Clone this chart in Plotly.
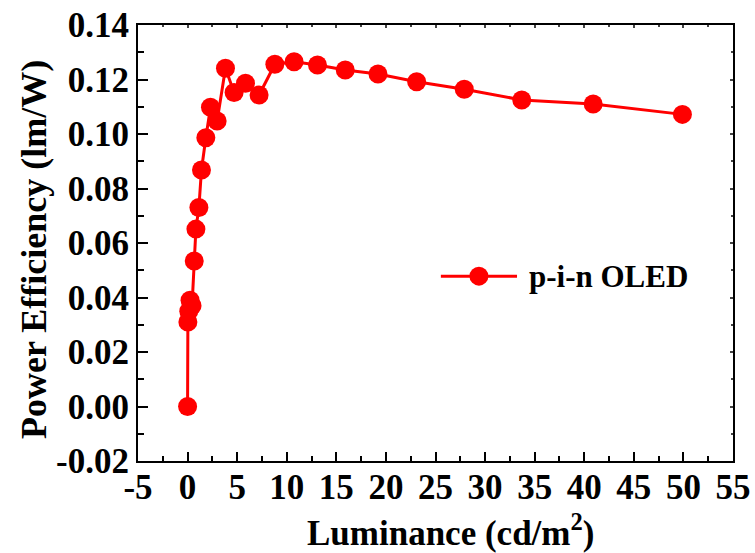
import plotly.graph_objects as go

luminance = [0.0, 0.03, 0.12, 0.25, 0.45, 0.67, 0.84, 1.14, 1.4, 1.84, 2.31, 2.98, 3.82, 4.69, 5.84, 7.21, 8.8, 10.74, 13.1, 15.9, 19.2, 23.1, 27.9, 33.7, 40.9, 49.9]
power_eff = [0.000, 0.031, 0.035, 0.039, 0.037, 0.0534, 0.0651, 0.073, 0.0868, 0.0986, 0.1098, 0.1048, 0.1241, 0.1152, 0.1186, 0.1143, 0.1256, 0.1265, 0.1253, 0.1235, 0.1220, 0.1192, 0.1164, 0.1125, 0.1110, 0.1072]
series_name = "p-i-n OLED"
x_ticks = list(range(-5, 60, 5))
x_ticktext = [str(v) for v in x_ticks]
y_ticks = [-0.02, 0.0, 0.02, 0.04, 0.06, 0.08, 0.10, 0.12, 0.14]
y_ticktext = ["%.2f" % v for v in y_ticks]
x_title = "Luminance (cd/m<sup>2</sup>)"
y_title = "Power Efficiency (lm/W)"

RED = "#ff0000"
FONT = "Liberation Serif"

fig = go.Figure()
fig.add_trace(go.Scatter(
    x=luminance, y=power_eff, mode="lines+markers", name=series_name,
    line=dict(color=RED, width=3), marker=dict(color=RED, size=19),
    showlegend=False))

# custom legend sample on a paper-like overlay axis
fig.add_trace(go.Scatter(
    x=[0.509, 0.573, 0.637], y=[0.424, 0.424, 0.424], mode="lines",
    line=dict(color=RED, width=3), xaxis="x3", yaxis="y3", showlegend=False, hoverinfo="skip"))
fig.add_trace(go.Scatter(
    x=[0.573], y=[0.424], mode="markers",
    marker=dict(color=RED, size=19), xaxis="x3", yaxis="y3", showlegend=False, hoverinfo="skip"))

axis_common = dict(showgrid=False, zeroline=False, showline=True, linecolor="black",
                   linewidth=2, ticks="inside", tickwidth=2, tickcolor="black", automargin=False,
                   tickfont=dict(family=FONT, size=35, color="black", weight="bold"))

fig.update_layout(
    width=755, height=553,
    margin=dict(l=138, r=22, t=25, b=92, autoexpand=False),
    paper_bgcolor="white", plot_bgcolor="white",
    font=dict(family=FONT, color="black"),
    xaxis=dict(range=[-5, 55], tickvals=x_ticks, ticktext=x_ticktext, ticklen=9, ticklabelstandoff=-6,
               minor=dict(dtick=2.5, tick0=0, ticklen=5, ticks="inside", tickwidth=2, tickcolor="black"),
               **axis_common),
    yaxis=dict(range=[-0.02, 0.14], tickvals=y_ticks, ticktext=y_ticktext, ticklen=10,
               minor=dict(dtick=0.01, tick0=0, ticklen=6, ticks="inside", tickwidth=2, tickcolor="black"),
               **axis_common),
    xaxis2=dict(overlaying="x", side="top", range=[-5, 55], tickvals=x_ticks, showticklabels=False,
                showline=True, linecolor="black", linewidth=2, ticks="inside", ticklen=3, tickwidth=2, automargin=False,
                minor=dict(dtick=2.5, tick0=0, ticklen=2, ticks="inside", tickwidth=2), showgrid=False, zeroline=False),
    yaxis2=dict(overlaying="y", side="right", range=[-0.02, 0.14], tickvals=y_ticks, showticklabels=False,
                showline=True, linecolor="black", linewidth=2, ticks="inside", ticklen=3, tickwidth=2, automargin=False,
                minor=dict(dtick=0.01, tick0=0, ticklen=2, ticks="inside", tickwidth=2), showgrid=False, zeroline=False),
    xaxis3=dict(overlaying="x", range=[0, 1], visible=False),
    yaxis3=dict(overlaying="y", range=[0, 1], visible=False),
    annotations=[
        dict(text="<b>" + series_name + "</b>", x=0.654, y=0.424, xref="paper", yref="paper",
             xanchor="left", yanchor="middle", showarrow=False,
             font=dict(family=FONT, size=31, color="black")),
        dict(text="<b>" + x_title + "</b>", x=450, y=553 - 530, xref="paper", yref="paper",
             showarrow=False, font=dict(family=FONT, size=35, color="black")),
        dict(text="<b>" + y_title + "</b>", x=34, y=553 - 250, xref="paper", yref="paper",
             textangle=-90, showarrow=False, font=dict(family=FONT, size=36, color="black")),
    ],
)
# convert pixel positions for title annotations to paper coordinates
pw, ph = 755 - 138 - 22, 553 - 25 - 92
for a in fig.layout.annotations[1:]:
    a.x = (a.x - 138) / pw
    a.y = (a.y - 92) / ph
    a.xanchor = "center"
    a.yanchor = "middle"
# dummy trace to activate top/right axes
fig.add_trace(go.Scatter(x=[None], y=[None], xaxis="x2", yaxis="y2", showlegend=False))

fig.write_html("out.html")
